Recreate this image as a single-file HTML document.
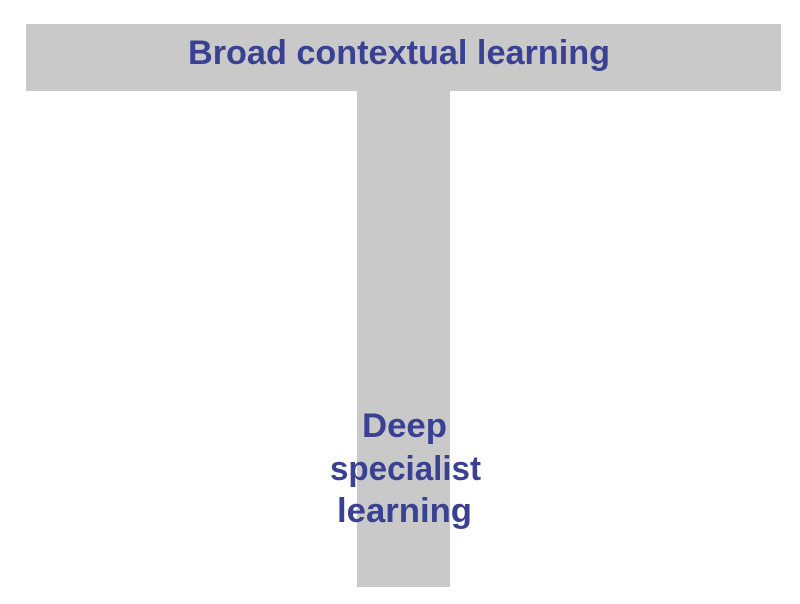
<!DOCTYPE html>
<html><head><style>html,body{margin:0;padding:0;background:#fff;width:800px;height:604px;overflow:hidden}</style></head>
<body>
<svg width="800" height="604" xmlns="http://www.w3.org/2000/svg">
<rect x="26" y="24" width="755" height="67" fill="#c9c9c9"/>
<rect x="357" y="90" width="93" height="497" fill="#c9c9c9"/>
<g font-family="Liberation Sans, sans-serif" font-weight="bold" font-size="34" fill="#3a4193">
<text x="188" y="64" textLength="422" lengthAdjust="spacingAndGlyphs">Broad contextual learning</text>
<text x="362" y="437" textLength="85" lengthAdjust="spacingAndGlyphs">Deep</text>
<text x="330" y="480" textLength="151" lengthAdjust="spacingAndGlyphs">specialist</text>
<text x="337" y="522" textLength="135" lengthAdjust="spacingAndGlyphs">learning</text>
</g>
</svg>
</body></html>
